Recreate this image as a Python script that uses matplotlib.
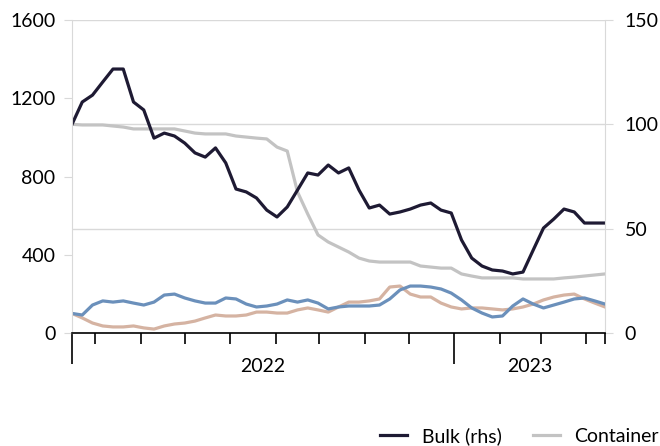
import numpy as np
import pandas as pd
import matplotlib
matplotlib.use('Agg')
import matplotlib.pyplot as plt
import matplotlib.transforms as mtransforms

plt.rcParams['font.family'] = ['Lato', 'DejaVu Sans']

# weekly index values, start 15 Apr 2022
weeks = pd.date_range('2022-04-15', periods=53, freq='7D')

bulk = [100, 110.7, 114, 120.3, 126.5, 126.5, 110.7, 106.9, 93.4, 95.8,
        94.4, 91.0, 86.3, 84.3, 88.7, 81.5, 69.0, 67.6, 64.7, 58.9,
        55.6, 60.4, 68.5, 76.7, 75.7, 80.5, 76.7, 79.1, 68.5, 59.9,
        61.3, 57.0, 58.0, 59.4, 61.3, 62.3, 58.9, 57.5, 44.6, 35.9,
        32.1, 30.2, 29.7, 28.3, 29.2, 39.8, 50.3, 54.6, 59.4, 58.0,
        52.7, 52.7, 52.7]

container = [100, 99.7, 99.7, 99.7, 99.2, 98.7, 97.8, 97.8, 97.8, 97.8,
             97.8, 96.8, 95.8, 95.4, 95.4, 95.4, 94.4, 93.9, 93.4, 93.0,
             89.1, 87.2, 67.6, 57.0, 47.0, 43.6, 41.2, 38.8, 35.9, 34.5,
             34.0, 34.0, 34.0, 34.0, 32.1, 31.6, 31.1, 31.1, 28.3, 27.3,
             26.4, 26.4, 26.4, 26.4, 25.9, 25.9, 25.9, 25.9, 26.4, 26.8,
             27.3, 27.8, 28.3]

blue = [100, 92, 143, 164, 158, 164, 153, 143, 158, 194,
        199, 179, 164, 153, 153, 179, 174, 148, 133, 138,
        148, 169, 158, 169, 153, 123, 133, 138, 138, 138,
        143, 174, 220, 240, 240, 235, 225, 204, 169, 128,
        102, 82, 87, 138, 174, 148, 128, 143, 158, 174,
        179, 164, 148]

tan = [100, 77, 51, 36, 31, 31, 36, 26, 20, 36,
       46, 51, 61, 77, 92, 87, 87, 92, 107, 107,
       102, 102, 118, 128, 118, 107, 133, 158, 158, 164,
       174, 235, 240, 199, 184, 184, 153, 133, 123, 128,
       128, 123, 118, 123, 133, 148, 169, 184, 194, 199,
       174, 153, 133]

left_ticks = [0, 400, 800, 1200, 1600]
right_ticks = [0, 50, 100, 150]

fig = plt.figure(figsize=(6.6, 4.46), dpi=100)
ax = fig.add_axes([72/660, 1-333/446, (605-72)/660, (333-20)/446])
ax2 = ax.twinx()

lw = 2.3
ax.plot(weeks, blue, color='#6b90bb', lw=lw, zorder=2)
ax.plot(weeks, tan, color='#d5b3a2', lw=lw, zorder=1)
ax2.plot(weeks, container, color='#c3c3c3', lw=lw, label='Container', zorder=1)
ax2.plot(weeks, bulk, color='#1e1a33', lw=lw, label='Bulk (rhs)', zorder=2)

ax.set_zorder(ax2.get_zorder() + 1)
ax.patch.set_visible(False)

ax.set_ylim(0, 1600)
ax2.set_ylim(0, 150)
ax.set_yticks(left_ticks)
ax2.set_yticks(right_ticks)
ax2.grid(axis='y', color='#d9d9d9', lw=1)
ax2.set_axisbelow(True)

start, end = weeks[0], weeks[-1]
jan23 = pd.Timestamp('2023-01-01')
ax.set_xlim(start, end)
ax.set_xticks([start, jan23])
ax.set_xticks(list(pd.date_range('2022-05-01', '2023-04-01', freq='MS')) + [end], minor=True)
ax.set_xticklabels([])
ax.tick_params(axis='x', which='major', length=22, width=1.2, color='black')
ax.tick_params(axis='x', which='minor', length=8, width=1.2, color='black')

for a in (ax, ax2):
    for s in a.spines.values():
        s.set_visible(False)
ax.spines['left'].set_visible(True)
ax.spines['left'].set_color('#d9d9d9')
ax2.spines['right'].set_visible(True)
ax2.spines['right'].set_color('#d9d9d9')
ax.spines['bottom'].set_visible(True)
ax.spines['bottom'].set_color('black')
ax.spines['bottom'].set_linewidth(1.2)
ax.spines['bottom'].set_zorder(5)

fs = 14
ax.tick_params(axis='y', length=6, color='#d9d9d9', labelsize=fs, pad=6)
ax2.tick_params(axis='y', length=6, color='#d9d9d9', labelsize=fs, pad=8)

trans = mtransforms.blended_transform_factory(ax.transData, ax.transAxes)
ax.text(start + (jan23 - start) / 2, -0.108, '2022', transform=trans,
        ha='center', va='center', fontsize=fs)
ax.text(jan23 + (end - jan23) / 2, -0.108, '2023', transform=trans,
        ha='center', va='center', fontsize=fs)

h, l = ax2.get_legend_handles_labels()
fig.legend(h[::-1], l[::-1], loc='center left', bbox_to_anchor=(380/660, 1-436/446),
           ncol=2, frameon=False, fontsize=fs, handlelength=1.4, handletextpad=0.75,
           columnspacing=1.6, borderaxespad=0, borderpad=0)

fig.savefig('out.png', dpi=100)
